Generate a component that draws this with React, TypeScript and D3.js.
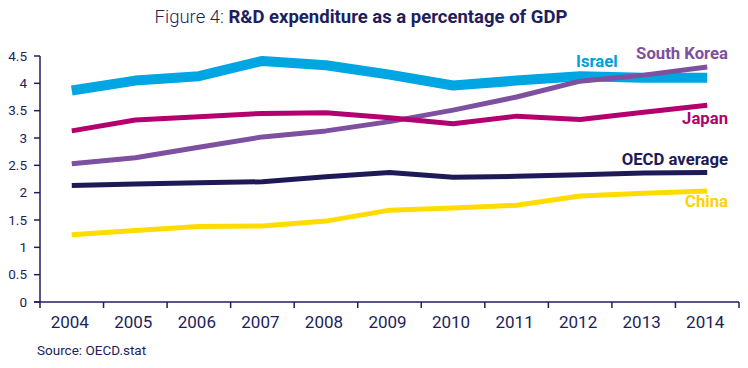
import React from "react";
import * as d3 from "d3";

const years = ["2004","2005","2006","2007","2008","2009","2010","2011","2012","2013","2014"];
const israel = [3.87, 4.05, 4.13, 4.41, 4.33, 4.16, 3.96, 4.05, 4.13, 4.1, 4.1];
const southKorea = [2.53, 2.64, 2.83, 3.02, 3.13, 3.3, 3.51, 3.75, 4.04, 4.15, 4.3];
const japan = [3.13, 3.33, 3.39, 3.45, 3.46, 3.37, 3.26, 3.4, 3.34, 3.47, 3.6];
const oecd = [2.13, 2.16, 2.18, 2.2, 2.29, 2.37, 2.28, 2.3, 2.33, 2.36, 2.37];
const china = [1.23, 1.31, 1.38, 1.39, 1.48, 1.68, 1.72, 1.77, 1.94, 1.99, 2.03];
const yTicks = [0, 0.5, 1, 1.5, 2, 2.5, 3, 3.5, 4, 4.5];

const NAVY = "#221e5b";
const series = [
  { name: "Israel", values: israel, color: "#00a6e2", width: 10 },
  { name: "South Korea", values: southKorea, color: "#7d50a0", width: 5 },
  { name: "Japan", values: japan, color: "#b4006e", width: 5 },
  { name: "OECD average", values: oecd, color: "#1e1a57", width: 5 },
  { name: "China", values: china, color: "#ffdc00", width: 5 },
];
const labels = [
  { text: "Israel", color: "#00a0df", x: 576, y: 67, anchor: "start" },
  { text: "South Korea", color: "#7d50a0", x: 728, y: 59, anchor: "end" },
  { text: "Japan", color: "#b4006e", x: 728, y: 124, anchor: "end" },
  { text: "OECD average", color: "#1e1a57", x: 728, y: 165, anchor: "end" },
  { text: "China", color: "#ffd200", x: 728, y: 207, anchor: "end" },
];

export default function App() {
  const W = 748, H = 368;
  const x = d3.scaleBand<string>().domain(years).range([40, 739]);
  const y = d3.scaleLinear().domain([0, 4.5]).range([302, 56]);
  const line = d3
    .line<number>()
    .x((_, i) => (x(years[i]) as number) + x.bandwidth() / 2)
    .y((d) => y(d));
  const font = "Roboto, 'Open Sans', sans-serif";
  const boundaries = [...years.map((yr) => x(yr) as number), x.range()[1]];
  return (
    <svg width={W} height={H} style={{ position: "absolute", left: 0, top: 0, background: "#fff" }} fontFamily={font}>
      <text x={361} y={23} textAnchor="middle" fontSize={18.5} fill={NAVY}>
        <tspan fontWeight={300}>Figure 4: </tspan>
        <tspan fontWeight={700}>R&amp;D expenditure as a percentage of GDP</tspan>
      </text>
      {series.map((s) => (
        <path key={s.name} d={line(s.values) || ""} fill="none" stroke={s.color} strokeWidth={s.width} strokeLinejoin="round" />
      ))}
      <line x1={40} x2={40} y1={y(4.5)} y2={y(0)} stroke={NAVY} strokeWidth={1.5} />
      <line x1={34} x2={739} y1={y(0)} y2={y(0)} stroke={NAVY} strokeWidth={1.5} />
      {yTicks.map((t) => (
        <g key={t}>
          <line x1={34} x2={40} y1={y(t)} y2={y(t)} stroke={NAVY} strokeWidth={1.5} />
          <text x={27} y={y(t)} dy="0.35em" textAnchor="end" fontSize={13.5} fill={NAVY}>
            {t}
          </text>
        </g>
      ))}
      {boundaries.map((b, i) => (
        <line key={i} x1={b} x2={b} y1={y(0)} y2={y(0) + 6} stroke={NAVY} strokeWidth={1.5} />
      ))}
      {years.map((yr) => (
        <text key={yr} x={(x(yr) as number) + x.bandwidth() / 2 - 2} y={328} textAnchor="middle" fontSize={17} fill={NAVY}>
          {yr}
        </text>
      ))}
      {labels.map((l) => (
        <text key={l.text} x={l.x} y={l.y} textAnchor={l.anchor as any} fontSize={16.7} fontWeight={700} fill={l.color}>
          {l.text}
        </text>
      ))}
      <text x={37} y={355} fontSize={13.5} fill={NAVY}>
        Source: OECD.stat
      </text>
    </svg>
  );
}
